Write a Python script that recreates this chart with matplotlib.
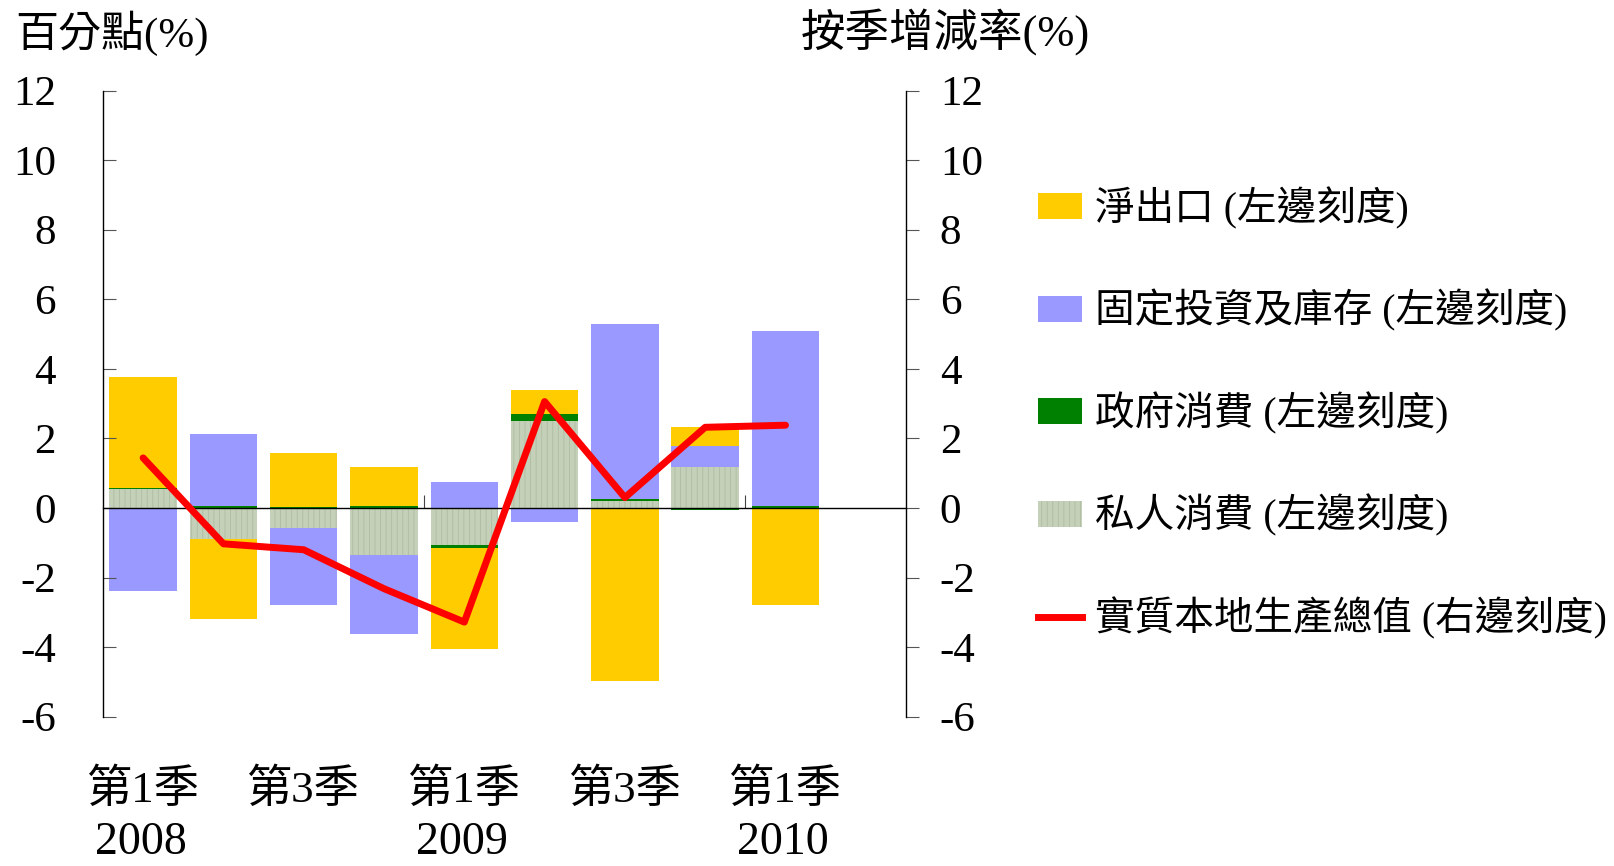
import numpy as np
import matplotlib.pyplot as plt
from matplotlib.patches import Patch
from matplotlib.lines import Line2D
from matplotlib.transforms import blended_transform_factory

plt.rcParams['font.family'] = ['Liberation Serif', 'Noto Sans CJK TC']
plt.rcParams['axes.unicode_minus'] = False
plt.rcParams['hatch.linewidth'] = 0.6

# 2008 Q1 .. 2010 Q1 (contribution in percentage points)
quarter_labels = ['第1季', '', '第3季', '', '第1季', '', '第3季', '', '第1季']
year_labels = ['2008', '', '', '', '2009', '', '', '', '2010']
private_cons = [0.55, -0.89, -0.57, -1.34, -1.05, 2.51, 0.19, 1.19, 0.00]
gov_cons = [0.03, 0.05, 0.02, 0.05, -0.09, 0.18, 0.06, -0.06, 0.05]
investment = [-2.40, 2.08, -2.21, -2.27, 0.75, -0.39, 5.05, 0.60, 5.04]
net_exports = [3.18, -2.29, 1.56, 1.13, -2.90, 0.71, -4.98, 0.55, -2.80]
gdp = [1.44, -1.03, -1.20, -2.32, -3.28, 3.06, 0.30, 2.32, 2.38]

series = [private_cons, gov_cons, investment, net_exports]
colors = ['#C4D0B8', '#008000', '#9999FF', '#FFCC00']
hatches = ['|||', None, None, None]
names = ['私人消費 (左邊刻度)', '政府消費 (左邊刻度)',
         '固定投資及庫存 (左邊刻度)', '淨出口 (左邊刻度)']

fig = plt.figure(figsize=(16.14, 8.66), dpi=100)
ax = fig.add_axes([0.0638, 0.1724, 0.4975, 0.723])
x = np.arange(len(gdp))

# stack positives and negatives separately
pos_bottom = np.zeros(len(x))
neg_bottom = np.zeros(len(x))
for vals, c, h in zip(series, colors, hatches):
    vals = np.array(vals)
    bottom = np.where(vals >= 0, pos_bottom, neg_bottom)
    ax.bar(x, vals, width=0.84, bottom=bottom, color=c, hatch=h,
           edgecolor='#AEBDA2' if h else 'none', linewidth=0, zorder=1)
    pos_bottom += np.where(vals >= 0, vals, 0)
    neg_bottom += np.where(vals < 0, vals, 0)

ax.set_xlim(-0.5, 9.5)
ax.set_ylim(-6, 12)
ax.set_yticks(range(-6, 13, 2))
ax.spines['top'].set_visible(False)
ax.spines['right'].set_visible(False)
ax.spines['bottom'].set_position(('data', 0))
ax.spines['bottom'].set_linewidth(1.0)
ax.spines['left'].set_linewidth(1.0)
ax.set_xticks([3.5, 7.5])
ax.tick_params(axis='x', direction='in', length=9.4, color='#444444', labelbottom=False)
ax.tick_params(axis='y', direction='in', length=9.4, color='#555555', pad=34, labelsize=31)

ax2 = ax.twinx()
ax2.plot(x, gdp, color='#FF0000', lw=5, solid_capstyle='round', zorder=5)
ax2.set_ylim(-6, 12)
ax2.set_yticks(range(-6, 13, 2))
for s in ['top', 'bottom', 'left']:
    ax2.spines[s].set_visible(False)
ax2.spines['right'].set_linewidth(1.0)
ax2.tick_params(axis='y', direction='out', length=9.4, color='#555555', pad=15, labelsize=31)

trans = blended_transform_factory(ax.transData, fig.transFigure)
for i, (q, yr) in enumerate(zip(quarter_labels, year_labels)):
    if q:
        ax.text(i, 0.0876, q, transform=trans, ha='center', va='center', fontsize=32.5)
    if yr:
        ax.text(i - 0.03, 0.002, yr, transform=trans, ha='center', va='bottom', fontsize=33)

fig.text(0.0093, 0.962, '百分點(%)', ha='left', va='center', fontsize=31)
fig.text(0.4963, 0.962, '按季增減率(%)', ha='left', va='center', fontsize=32)

handles = [Patch(facecolor=colors[3]), Patch(facecolor=colors[2]),
           Patch(facecolor=colors[1]),
           Patch(facecolor=colors[0], hatch='|||', edgecolor='#AEBDA2', linewidth=0),
           Line2D([0], [0], color='#FF0000', lw=5)]
labels = [names[3], names[2], names[1], names[0], '實質本地生產總值 (右邊刻度)']
fig.legend(handles, labels, loc='upper left', bbox_to_anchor=(0.643, 0.7845),
           frameon=False, fontsize=28.5, borderpad=0, borderaxespad=0,
           handlelength=1.11, handleheight=0.63, handletextpad=0.34,
           labelspacing=1.52)

fig.savefig('out.png', dpi=100)
